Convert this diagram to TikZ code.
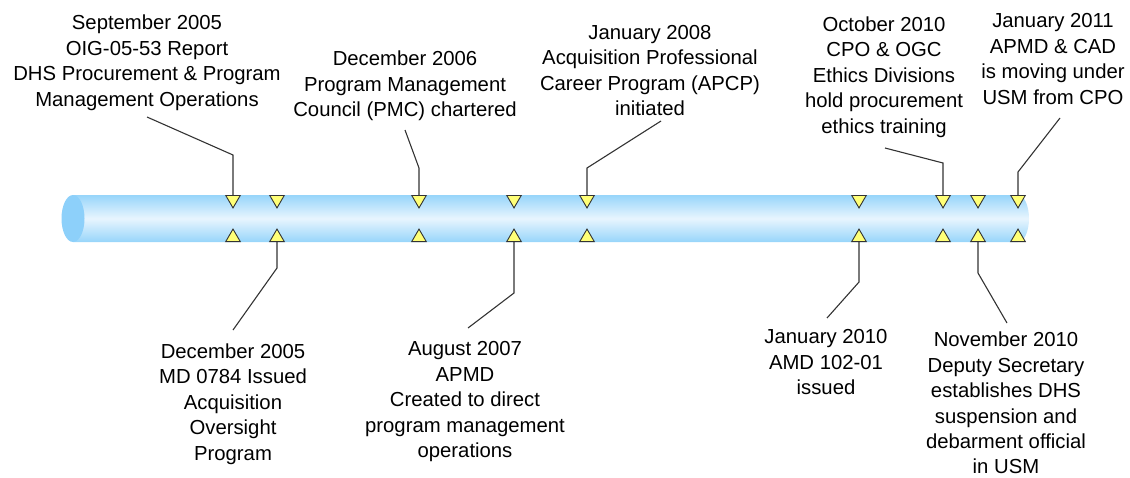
\documentclass[tikz,border=0pt]{standalone}
\usepackage{fontspec}
\setmainfont{Liberation Sans}
\usepackage{xcolor}
\definecolor{pipe}{HTML}{97D5FA}
\definecolor{pipelight}{HTML}{E8F5FE}
\definecolor{pipeend}{HTML}{8DD0FA}
\definecolor{marker}{HTML}{FFFF77}
\definecolor{leadgray}{HTML}{333333}
\usetikzlibrary{shapes.geometric}

\begin{document}
\begin{tikzpicture}[x=1pt,y=-1pt,
  event/.style={align=center,anchor=north,inner sep=0pt,font=\fontsize{20.3}{25.4}\selectfont},
  leader/.style={draw=leadgray,line width=1.1pt},
  tri/.style={isosceles triangle,isosceles triangle stretches,minimum width=14.5,minimum height=12.5,
    inner sep=0pt,fill=marker,draw=leadgray,line width=0.9pt},
  tridown/.style={tri,rotate=-90,anchor=west},
  triup/.style={tri,rotate=90,anchor=west}]
\useasboundingbox (0,0) rectangle (1130,477);

% the pipe
\shade[top color=pipe,bottom color=pipe,middle color=pipelight]
  (73,195) -- (1018,195) arc[start angle=-90,end angle=90,x radius=11,y radius=23.5] -- (73,242) -- cycle;
\fill[pipeend] (73,218.5) ellipse [x radius=11.5,y radius=23.5];

\foreach \x [count=\i] in {233,277,419,514,587,859,943,978,1018}{
  \node[tridown] (d\i) at (\x,195) {};
  \node[triup] (u\i) at (\x,242) {};
}

% events above
\node[event] (sep05) at (147,15) {September 2005\\OIG-05-53 Report\\DHS Procurement \& Program\\Management Operations};
\node[event] (dec06) at (405,51) {December 2006\\Program Management\\Council (PMC) chartered};
\node[event] (jan08) at (650,25) {January 2008\\Acquisition Professional\\Career Program (APCP)\\initiated};
\node[event] (oct10) at (884,16.5) {October 2010\\CPO \& OGC\\Ethics Divisions\\hold procurement\\ethics training};
\node[event] (jan11) at (1053,13.5) {January 2011\\APMD \& CAD\\is moving under\\USM from CPO};

% events below
\node[event] (dec05) at (233,343.5) {December 2005\\MD 0784 Issued\\Acquisition\\Oversight\\Program};
\node[event] (aug07) at (465,341.5) {August 2007\\APMD\\Created to direct\\program management\\operations};
\node[event] (jan10) at (826,329.5) {January 2010\\AMD 102-01\\issued};
\node[event] (nov10) at (1006,332) {November 2010\\Deputy Secretary\\establishes DHS\\suspension and\\debarment official\\in USM};

\coordinate (sep05-a) at (147,117);  \coordinate (sep05-b) at (233,155);
\coordinate (dec05-a) at (233,330);  \coordinate (dec05-b) at (277,268);
\coordinate (dec06-a) at (405,130);  \coordinate (dec06-b) at (419,168);
\coordinate (aug07-a) at (468,328);  \coordinate (aug07-b) at (514,293);
\coordinate (jan08-a) at (661,121);  \coordinate (jan08-b) at (587,168);
\coordinate (jan10-a) at (827,318);  \coordinate (jan10-b) at (859,282);
\coordinate (oct10-a) at (885,148);  \coordinate (oct10-b) at (943,163);
\coordinate (nov10-a) at (1007,323); \coordinate (nov10-b) at (978,273);
\coordinate (jan11-a) at (1060,118); \coordinate (jan11-b) at (1018,172);

\draw[leader] (sep05-a) -- (sep05-b) -- (d1);
\draw[leader] (u2) -- (dec05-b) -- (dec05-a);
\draw[leader] (dec06-a) -- (dec06-b) -- (d3);
\draw[leader] (u4) -- (aug07-b) -- (aug07-a);
\draw[leader] (jan08-a) -- (jan08-b) -- (d5);
\draw[leader] (u6) -- (jan10-b) -- (jan10-a);
\draw[leader] (oct10-a) -- (oct10-b) -- (d7);
\draw[leader] (u8) -- (nov10-b) -- (nov10-a);
\draw[leader] (jan11-a) -- (jan11-b) -- (d9);

\end{tikzpicture}
\end{document}
